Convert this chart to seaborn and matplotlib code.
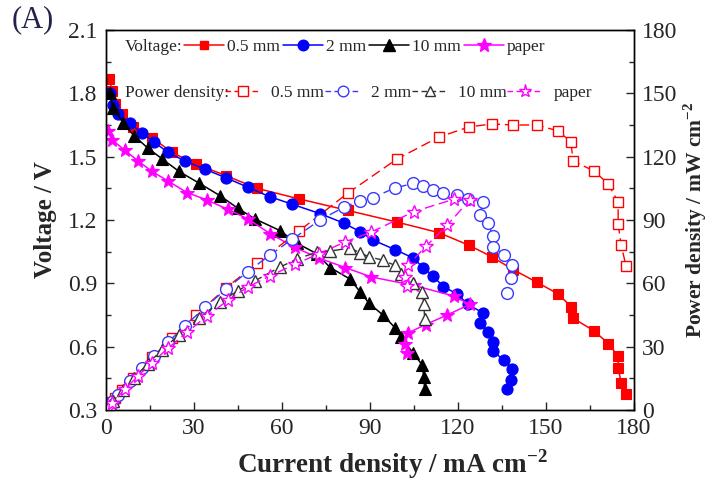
import matplotlib
matplotlib.use("Agg")
import matplotlib.pyplot as plt
import seaborn as sns
from matplotlib.lines import Line2D
from matplotlib.ticker import MultipleLocator, FormatStrFormatter

# ---------------- data ----------------
# 0.5 mm
I05 = [1.0, 2.2, 3.2, 5.5, 9.2, 15.7, 22.5, 30.7, 40.9, 51.5, 65.8, 82.5, 99.2, 113.5,
       123.8, 131.6, 138.8, 146.9, 154.1, 158.5, 159.2, 166.4, 171.2, 174.6, 174.6, 175.6, 177.3]
V05 = [1.87, 1.81, 1.75, 1.70, 1.64, 1.59, 1.52, 1.465, 1.41, 1.35, 1.30, 1.245, 1.19, 1.14,
       1.08, 1.025, 0.965, 0.905, 0.85, 0.79, 0.735, 0.675, 0.615, 0.555, 0.50, 0.43, 0.375]
P05 = [1.9, 4.0, 5.6, 9.4, 15.1, 24.9, 34.1, 45.0, 57.8, 69.6, 84.8, 102.8, 118.9, 129.3,
       134.1, 135.5, 135.0, 135.0, 132.2, 127.0, 118.0, 113.2, 107.1, 98.5, 88.1, 78.2, 68.2]

# 2 mm
I2 = [1.4, 2.4, 4.1, 8.2, 12.3, 16.4, 21.1, 26.9, 33.8, 40.9, 48.4, 55.9, 63.4, 73.0, 81.1,
      86.6, 91.0, 98.5, 104.7, 108.1, 111.5, 114.9, 119.7, 123.4, 128.5, 127.5, 130.2, 131.9,
      131.9, 135.7, 138.4, 138.1, 136.7]
V2 = [1.80, 1.745, 1.70, 1.66, 1.61, 1.57, 1.52, 1.48, 1.44, 1.40, 1.355, 1.31, 1.275, 1.23,
      1.185, 1.145, 1.105, 1.06, 1.02, 0.975, 0.935, 0.885, 0.85, 0.80, 0.76, 0.71, 0.67, 0.62,
      0.58, 0.535, 0.495, 0.44, 0.40]
P2 = [2.5, 4.2, 7.0, 13.6, 19.8, 25.7, 32.1, 39.8, 48.7, 57.2, 65.6, 73.4, 80.8, 90.0, 96.1,
      99.1, 100.6, 105.2, 107.3, 106.1, 104.2, 102.8, 101.8, 100.0, 98.5, 92.4, 88.6, 82.4,
      77.2, 73.4, 68.7, 62.5, 55.4]

# 10 mm
I10 = [1.4, 2.4, 5.8, 9.5, 14.3, 19.1, 24.9, 31.7, 38.9, 45.0, 50.8, 59.3, 65.1, 71.9, 76.4,
       83.2, 86.6, 89.7, 94.4, 98.5, 100.5, 104.7, 107.7, 108.4, 108.6]
V10 = [1.80, 1.73, 1.66, 1.60, 1.54, 1.49, 1.43, 1.375, 1.315, 1.255, 1.205, 1.15, 1.09, 1.04,
       0.975, 0.92, 0.86, 0.805, 0.75, 0.69, 0.645, 0.57, 0.515, 0.455, 0.40]
P10 = [2.5, 4.2, 9.6, 15.2, 22.0, 28.5, 35.6, 43.6, 51.2, 56.5, 61.2, 67.7, 71.5, 74.8, 75.3,
       76.7, 74.5, 72.5, 71.0, 68.5, 64.2, 60.3, 55.7, 50.2, 43.3]

# paper
Ip = [0.7, 2.0, 6.5, 10.9, 15.7, 21.1, 27.6, 34.4, 41.6, 48.4, 56.0, 64.4, 72.5, 81.5, 90.5,
      105.0, 118.5, 124.0, 116.3, 109.0, 103.0, 102.0, 102.6]
Vp = [1.62, 1.58, 1.53, 1.48, 1.43, 1.385, 1.33, 1.295, 1.25, 1.205, 1.135, 1.07, 1.02, 0.975,
      0.93, 0.89, 0.84, 0.80, 0.75, 0.705, 0.665, 0.615, 0.57]
Pp = [1.1, 3.2, 9.9, 16.1, 22.5, 29.2, 36.8, 44.5, 52.0, 58.3, 63.6, 69.0, 74.0, 79.6, 84.3,
      94.0, 99.8, 99.5, 87.5, 77.5, 68.5, 63.0, 58.8]

series_labels = ["0.5 mm", "2 mm", "10 mm", "paper"]
x_ticks = [0, 30, 60, 90, 120, 150, 180]
v_ticks = [0.3, 0.6, 0.9, 1.2, 1.5, 1.8, 2.1]
p_ticks = [0, 30, 60, 90, 120, 150, 180]

# ---------------- style ----------------
sns.set_style("ticks")
plt.rcParams["font.family"] = ["Liberation Serif", "DejaVu Serif"]
plt.rcParams["mathtext.fontset"] = "custom"
plt.rcParams["mathtext.rm"] = "Liberation Serif"
plt.rcParams["mathtext.bf"] = "Liberation Serif:bold"
plt.rcParams["axes.linewidth"] = 1.0

fig = plt.figure(figsize=(7.15, 4.83), dpi=100)
ax = fig.add_axes([106 / 715, 1 - 410 / 483, 528 / 715, 380 / 483])
ax2 = ax.twinx()

styles = [
    dict(color="#ff0000", marker="s", ms=6.8, open_ms=7.5, open_color="#ff0000"),
    dict(color="#0000ff", marker="o", ms=8, open_ms=8.5, open_color="#3a3aff"),
    dict(color="#000000", marker="^", ms=8.5, open_ms=8.5, open_color="#333333"),
    dict(color="#ff00ff", marker="*", ms=10.5, open_ms=10.5, open_color="#ff00ff"),
]
dash = (0, (7, 3.5))

volt = [(I05, V05), (I2, V2), (I10, V10), (Ip, Vp)]
powr = [(I05, P05), (I2, P2), (I10, P10), (Ip, Pp)]

for (x, y), st in zip(volt, styles):
    sns.lineplot(x=x, y=y, ax=ax, sort=False, estimator=None, color=st["color"],
                 marker=st["marker"], markersize=st["ms"], markeredgecolor=st["color"],
                 markerfacecolor=st["color"], markeredgewidth=0.8, linewidth=1.1)
for (x, y), st in zip(powr, styles):
    sns.lineplot(x=x, y=y, ax=ax2, sort=False, estimator=None, color=st["open_color"],
                 marker=st["marker"], markersize=st["open_ms"], markeredgecolor=st["open_color"],
                 markerfacecolor="white", markeredgewidth=1.0, linewidth=1.0, linestyle=dash)

ax.set_xlim(0, 180)
ax.set_ylim(0.3, 2.1)
ax2.set_ylim(0, 180)
ax.set_xticks(x_ticks)
ax.set_yticks(v_ticks)
ax2.set_yticks(p_ticks)
ax.yaxis.set_major_formatter(FormatStrFormatter("%.1f"))
ax.xaxis.set_minor_locator(MultipleLocator(15))
ax.yaxis.set_minor_locator(MultipleLocator(0.15))
ax2.yaxis.set_minor_locator(MultipleLocator(15))

for a in (ax, ax2):
    a.tick_params(which="major", direction="in", length=6, width=1, labelsize=17, pad=6)
    a.tick_params(which="minor", direction="in", length=3.5, width=1)
    for s in a.spines.values():
        s.set_visible(True)
        s.set_linewidth(1.0)
        s.set_color("black")
ax.tick_params(axis="y", which="both", right=False)
ax.tick_params(axis="x", which="both", top=False)

ax.set_xlabel("Current density / mA cm$^{\\mathbf{-2}}$", fontsize=19.5, fontweight="bold")
ax.xaxis.set_label_coords(0.542, -0.098)
ax.set_ylabel("Voltage / V", fontsize=18, fontweight="bold", labelpad=8)
ax2.set_ylabel("Power density / mW cm$^{\\mathbf{-2}}$", fontsize=15.5, fontweight="bold", labelpad=3)

fig.text(12 / 715, 1 - 20 / 483, "(A)", fontsize=22, color="#23234a", va="center", ha="left")

# ---------------- legends ----------------
def handles(kind):
    hs = []
    for st in styles:
        if kind == "v":
            hs.append(Line2D([], [], color=st["color"], marker=st["marker"], ms=st["ms"] * 0.95,
                             mfc=st["color"], mec=st["color"], lw=1.1))
        else:
            hs.append(Line2D([], [], color=st["open_color"], marker=st["marker"], ms=st["open_ms"] * 0.9,
                             mfc="white", mec=st["open_color"], lw=1.0, ls=(0, (4, 2.5))))
    return hs

fs_leg = 12.5
fig.text(125 / 715, 1 - 47 / 483, "Voltage:", fontsize=fs_leg, va="center", ha="left")
fig.legend(handles("v"), series_labels, loc="center left", bbox_to_anchor=(184 / 715, 1 - 47 / 483),
           ncol=4, frameon=False, fontsize=fs_leg, handlelength=2.3, handletextpad=0.2,
           columnspacing=0.15, borderpad=0, borderaxespad=0, numpoints=1)
fig.text(125 / 715, 1 - 93 / 483, "Power density:", fontsize=fs_leg, va="center", ha="left")
fig.legend(handles("p"), series_labels, loc="center left", bbox_to_anchor=(225 / 715, 1 - 93 / 483),
           ncol=4, frameon=False, fontsize=fs_leg, handlelength=2.05, handletextpad=0.6,
           columnspacing=0.05, borderpad=0, borderaxespad=0, numpoints=1)

fig.savefig("out.png", dpi=100)
